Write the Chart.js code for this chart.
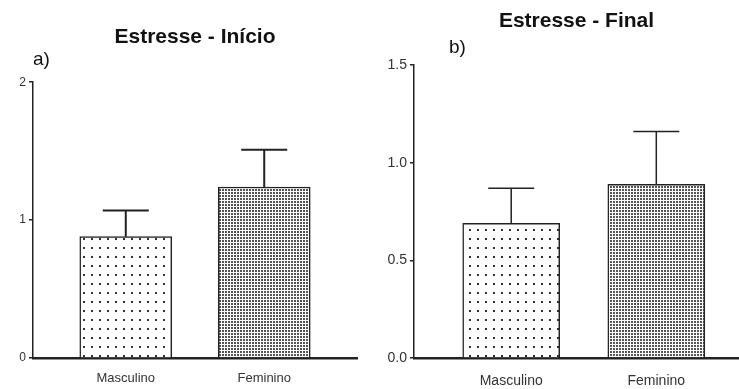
<!DOCTYPE html>
<html>
<head>
<meta charset="utf-8">
<script src="https://cdn.jsdelivr.net/npm/chart.js@4.4.0/dist/chart.umd.min.js"></script>
<style>
  body { margin: 0; background: #fff; }
  .panel { position: absolute; top: 0; height: 389px; }
  .tag { position: absolute; font: 19px "Liberation Sans", Arial, sans-serif; color: #111; }
</style>
</head>
<body>
<div class="panel" style="left:0;width:370px"><canvas id="chartA" width="370" height="389"></canvas></div>
<div class="panel" style="left:370px;width:369px"><canvas id="chartB" width="369" height="389"></canvas></div>
<div class="tag" style="left:33px;top:48px">a)</div>
<div class="tag" style="left:449px;top:36px">b)</div>
<script>
// data
var categories = ['Masculino', 'Feminino'];
var inicioMeans = [0.88, 1.24];
var inicioErrors = [0.19, 0.27];
var finalMeans = [0.69, 0.89];
var finalErrors = [0.18, 0.27];
var inicioTicks = [0, 1, 2];
var finalTicks = [0.0, 0.5, 1.0, 1.5];

/* fill patterns */
function sparseDots() {
    var c = document.createElement('canvas');
    c.width = 8; c.height = 9;
    var g = c.getContext('2d');
    g.fillStyle = '#fff'; g.fillRect(0, 0, 8, 9);
    g.fillStyle = '#333'; g.fillRect(3, 4, 2, 2);
    return g.createPattern(c, 'repeat');
}
function denseDots() {
    var c = document.createElement('canvas');
    c.width = 3; c.height = 3;
    var g = c.getContext('2d');
    g.fillStyle = '#fff'; g.fillRect(0, 0, 3, 3);
    g.fillStyle = '#555'; g.fillRect(0, 0, 2, 2);
    return g.createPattern(c, 'repeat');
}

var errorBars = {
    id: 'errorBars',
    afterDatasetsDraw: function (chart, args, opts) {
        var ctx = chart.ctx, y = chart.scales.y;
        var meta = chart.getDatasetMeta(0);
        ctx.save();
        ctx.strokeStyle = '#222';
        ctx.lineWidth = opts.width;
        meta.data.forEach(function (bar, i) {
            var top = y.getPixelForValue(opts.means[i] + opts.errors[i]);
            ctx.beginPath();
            ctx.moveTo(bar.x, bar.y);
            ctx.lineTo(bar.x, top);
            ctx.moveTo(bar.x - opts.cap, top);
            ctx.lineTo(bar.x + opts.cap, top);
            ctx.stroke();
        });
        ctx.restore();
    }
};

function makeChart(id, o) {
    var ctx = document.getElementById(id).getContext('2d');
    return new Chart(ctx, {
        type: 'bar',
        data: {
            datasets: [{
                data: o.means.map(function (v, i) { return { x: i, y: v }; }),
                backgroundColor: [sparseDots(), denseDots()],
                borderColor: '#222',
                borderWidth: 1.5,
                barThickness: o.barWidth
            }]
        },
        options: {
            responsive: false,
            animation: false,
            layout: { padding: { left: 0, right: o.rightPad, top: 0, bottom: 0 } },
            plugins: {
                legend: { display: false },
                tooltip: { enabled: false },
                title: {
                    display: true,
                    text: o.title,
                    fullSize: false,
                    color: '#111',
                    font: { family: '"Liberation Sans", Arial, sans-serif', size: 21, weight: 'bold' },
                    padding: { top: o.titleTop, bottom: o.titleBottom }
                },
                errorBars: { means: o.means, errors: o.errors, cap: 23, width: o.errWidth }
            },
            scales: {
                x: {
                    type: 'linear',
                    offset: false,
                    min: -0.67,
                    max: o.xMax,
                    afterBuildTicks: function (s) { s.ticks = categories.map(function (c, i) { return { value: i }; }); },
                    afterFit: function (s) { s.height = 31; },
                    grid: { drawOnChartArea: false, drawTicks: false },
                    border: { color: '#222', width: 2.5 },
                    ticks: {
                        padding: o.xPad,
                        color: '#333',
                        font: { family: '"Liberation Sans", Arial, sans-serif', size: o.xFont },
                        callback: function (v) { return categories[v]; }
                    }
                },
                y: {
                    min: 0,
                    max: o.ticks[o.ticks.length - 1],
                    afterBuildTicks: function (s) { s.ticks = o.ticks.map(function (v) { return { value: v }; }); },
                    afterFit: function (s) { s.width = o.axisX; },
                    grid: { drawOnChartArea: false, drawTicks: true, tickLength: 4, color: '#222', lineWidth: 1.5 },
                    border: { color: '#222', width: 1.5 },
                    ticks: {
                        padding: 3,
                        color: '#333',
                        font: { family: '"Liberation Sans", Arial, sans-serif', size: o.yFont },
                        callback: function (v) { return o.decimals ? v.toFixed(1) : String(v); }
                    }
                }
            }
        },
        plugins: [errorBars]
    });
}

makeChart('chartA', {
    title: 'Estresse - Início', means: inicioMeans, errors: inicioErrors, ticks: inicioTicks,
    decimals: false, axisX: 33, rightPad: 13, xMax: 1.67, barWidth: 92,
    titleTop: 25, titleBottom: 32, xFont: 13, yFont: 12, errWidth: 2, xPad: 13
});
makeChart('chartB', {
    title: 'Estresse - Final', means: finalMeans, errors: finalErrors, ticks: finalTicks,
    decimals: true, axisX: 44, rightPad: 0, xMax: 1.57, barWidth: 97,
    titleTop: 9, titleBottom: 31, xFont: 14, yFont: 14, errWidth: 1.5, xPad: 15
});
</script>
</body>
</html>
